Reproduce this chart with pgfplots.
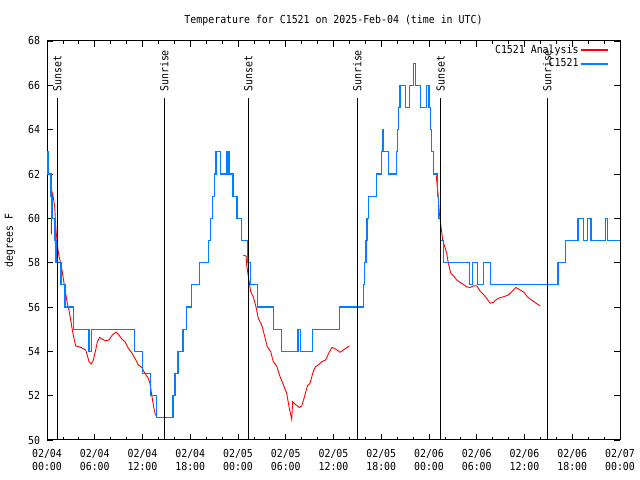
\documentclass[border=0pt]{standalone}
\usepackage{fontspec}
\setmainfont[FakeStretch=0.9]{DejaVu Sans Mono}
\usepackage{pgfplots}
\pgfplotsset{compat=1.18}
\definecolor{gred}{RGB}{255,0,0}
\definecolor{gblue}{RGB}{0,128,255}
\begin{document}
\fontsize{11bp}{13bp}\selectfont
\begin{tikzpicture}
\useasboundingbox (0,0) rectangle (640bp,480bp);
\begin{axis}[
  at={(47bp,40bp)}, anchor=south west,
  scale only axis, width=573bp, height=399bp,
  xmin=0, xmax=72, ymin=50, ymax=68,
  xtick={0,6,...,72},
  xticklabels={{02/04\\00:00},{02/04\\06:00},{02/04\\12:00},{02/04\\18:00},{02/05\\00:00},{02/05\\06:00},{02/05\\12:00},{02/05\\18:00},{02/06\\00:00},{02/06\\06:00},{02/06\\12:00},{02/06\\18:00},{02/07\\00:00}},
  minor xtick={2,4,8,10,14,16,20,22,26,28,32,34,38,40,44,46,50,52,56,58,62,64,68,70},
  ytick={50,52,...,68},
  tick align=inside,
  major tick length=6bp, minor tick length=3bp,
  every tick/.style={black, line width=0.8bp},
  axis line style={line width=1bp},
  /pgf/number format/assume math mode=true,
  tick label style={font=\fontsize{11bp}{13bp}\selectfont},
  xticklabel style={align=center, yshift=-5bp},
  yticklabel style={xshift=-3bp},
  title={Temperature for C1521 on 2025-Feb-04 (time in UTC)},
  title style={at={(0.5,1)}, anchor=center, yshift=15bp, font=\fontsize{11bp}{13bp}\selectfont},
  ylabel={degrees F},
  ylabel style={at={(axis description cs:-0.0646,0.5)}, anchor=center, font=\fontsize{11bp}{13bp}\selectfont},
  legend style={at={(axis description cs:1,1)}, anchor=north east, xshift=-8bp, yshift=2bp,
    draw=none, fill=none, font=\fontsize{11bp}{13bp}\selectfont,
    row sep=-3bp, nodes={inner xsep=1.5bp, inner ysep=3.5bp}},
  legend cell align=right,
  legend plot pos=right,
  legend image code/.code={\draw[#1, line width=1.8bp] (0bp,0bp) -- (27bp,0bp);},
]
% C1521 Analysis (red)
\addplot[gred, line width=0.9bp] coordinates {
(0.54,59.28) (0.63,61.2) (0.79,60.97) (0.97,60.5) (1.13,59.47) (1.29,58.87) (1.47,58.35)
(1.72,57.97) (1.92,57.6) (2.14,57.07) (2.35,56.6) (2.55,56.17) (2.76,55.86) (2.98,55.41)
(3.18,54.96) (3.39,54.59) (3.61,54.24) (4.02,54.21) (4.44,54.14) (4.86,54.06) (5.06,53.83)
(5.28,53.53) (5.57,53.43) (5.82,53.6) (6.12,54.06) (6.32,54.43) (6.62,54.63) (6.95,54.54)
(7.38,54.48) (7.79,54.51) (8.21,54.74) (8.67,54.86) (8.96,54.77) (9.39,54.56) (9.8,54.43)
(10.22,54.14) (10.64,53.94) (11.06,53.68) (11.47,53.38) (11.9,53.28) (12.31,53.0) (12.73,52.78)
(12.94,52.56) (13.16,52.03) (13.36,51.58) (13.57,51.2) (13.78,51.05)
};
\addlegendentry{C1521 Analysis}
\addplot[gred, line width=0.9bp, forget plot] coordinates {
(24.67,58.34) (25.01,58.3) (25.09,57.9) (25.3,57.37) (25.6,56.69) (25.92,56.46) (26.26,56.01)
(26.55,55.49) (26.98,55.19) (27.31,54.74) (27.68,54.21) (28.11,53.98) (28.44,53.53) (28.86,53.34)
(29.28,52.86) (29.69,52.5) (30.12,52.1) (30.45,51.43) (30.75,50.93) (30.87,51.73) (31.29,51.58)
(31.7,51.47) (32.0,51.53) (32.42,52.03) (32.71,52.44) (33.05,52.56) (33.39,53.01) (33.72,53.31)
(34.09,53.38) (34.52,53.53) (35.02,53.61) (35.35,53.88) (35.81,54.18) (36.32,54.09) (36.82,53.96)
(37.36,54.09) (37.99,54.24)
};
\addplot[gred, line width=0.9bp, forget plot] coordinates {
(48.88,62.03) (49.13,61.13) (49.3,60.23) (49.51,59.62) (49.72,59.02) (50.01,58.69) (50.23,58.42)
(50.43,57.97) (50.73,57.52) (51.06,57.41) (51.48,57.22) (51.9,57.11) (52.31,57.02) (52.74,56.91)
(53.15,56.88) (53.57,56.95) (54.0,56.96) (54.41,56.72) (54.83,56.57) (55.25,56.39) (55.67,56.17)
(56.08,56.21) (56.51,56.35) (56.92,56.42) (57.34,56.46) (57.97,56.54) (58.39,56.69) (58.93,56.88)
(59.44,56.77) (59.94,56.66) (60.36,56.46) (60.91,56.31) (61.45,56.17) (61.95,56.06)
};
% C1521 (blue)
\addplot[gblue, line width=1.2bp, const plot] coordinates {
(0,63) (0.13,62) (0.5,61) (0.63,60) (1.0,59) (1.13,58) (1.76,57) (2.26,56) (3.33,55)
(5.28,54) (5.62,55) (10.97,54) (12.0,53) (12.98,52) (13.78,51) (15.83,52) (16.08,53)
(16.45,54) (17.1,55) (17.5,56) (18.2,57) (19.15,58) (20.25,59) (20.55,60) (20.8,61)
(21.0,62) (21.24,63) (21.8,62) (22.62,63) (22.87,62) (23.37,61) (23.88,60) (24.4,59)
(25.15,58) (25.6,57) (26.45,56) (28.46,55) (29.5,54) (31.53,55) (31.84,54) (33.36,55)
(36.78,56) (39.75,57) (39.92,58) (40.08,59) (40.22,60) (40.36,61) (41.38,62) (42.0,63)
(42.2,64) (42.3,63) (42.9,62) (43.92,63) (44.05,64) (44.2,65) (44.36,66) (45.03,65)
(45.55,66) (46.05,67) (46.33,66) (46.93,65) (47.67,66) (48.0,65) (48.15,64) (48.3,63)
(48.55,62) (49.07,61) (49.2,60) (49.4,59) (49.85,58) (53.07,57) (53.42,58) (54.12,57)
(54.87,58) (55.73,57) (64.2,58) (65.15,59) (66.72,60) (67.44,59) (67.9,60) (68.36,59)
(70.15,60) (70.4,59) (72,59)
};
\addlegendentry{C1521}
% sunrise / sunset lines
\addplot[black, line width=1bp, forget plot] coordinates {(1.30,50) (1.30,65.41)};
\addplot[black, line width=1bp, forget plot] coordinates {(14.74,50) (14.74,65.41)};
\addplot[black, line width=1bp, forget plot] coordinates {(25.30,50) (25.30,65.41)};
\addplot[black, line width=1bp, forget plot] coordinates {(38.99,50) (38.99,65.41)};
\addplot[black, line width=1bp, forget plot] coordinates {(49.47,50) (49.47,65.41)};
\addplot[black, line width=1bp, forget plot] coordinates {(62.87,50) (62.87,65.41)};
\node[rotate=90, anchor=west, inner sep=0pt] at (axis cs:1.30,65.70) {Sunset};
\node[rotate=90, anchor=west, inner sep=0pt] at (axis cs:14.74,65.70) {Sunrise};
\node[rotate=90, anchor=west, inner sep=0pt] at (axis cs:25.30,65.70) {Sunset};
\node[rotate=90, anchor=west, inner sep=0pt] at (axis cs:38.99,65.70) {Sunrise};
\node[rotate=90, anchor=west, inner sep=0pt] at (axis cs:49.47,65.70) {Sunset};
\node[rotate=90, anchor=west, inner sep=0pt] at (axis cs:62.87,65.70) {Sunrise};
\end{axis}
\end{tikzpicture}
\end{document}
